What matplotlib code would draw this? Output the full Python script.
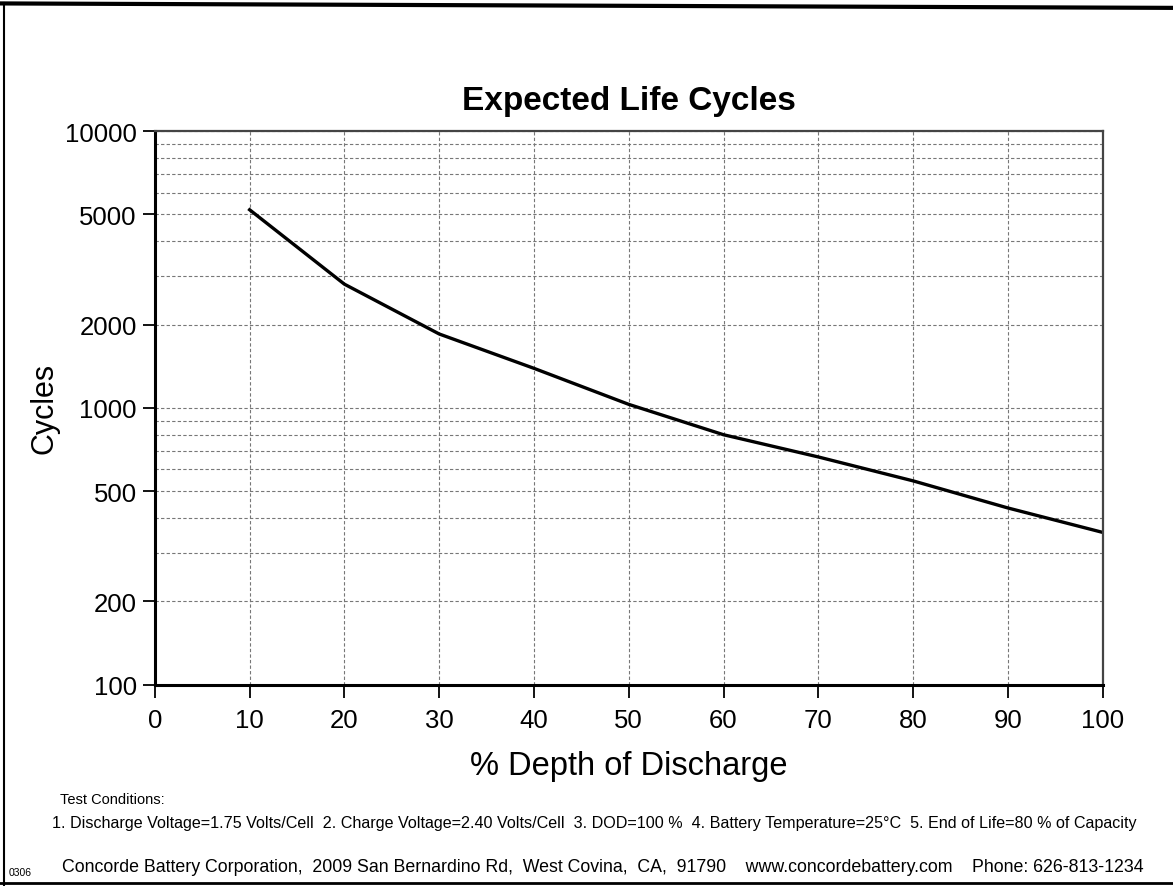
import matplotlib.pyplot as plt
from matplotlib.lines import Line2D
from matplotlib.ticker import FixedLocator, LogLocator, NullFormatter

plt.rcParams['font.family'] = ['Liberation Sans', 'DejaVu Sans']

dod = [10, 20, 30, 40, 50, 60, 70, 80, 90, 100]
cycles = [5200, 2800, 1850, 1390, 1030, 800, 665, 545, 435, 355]

x_ticks = [0, 10, 20, 30, 40, 50, 60, 70, 80, 90, 100]
y_ticks = [100, 200, 500, 1000, 2000, 5000, 10000]

fig = plt.figure(figsize=(11.73, 8.87), dpi=100)
ax = fig.add_axes([0.132, 0.227, 0.808, 0.624])

ax.plot(dod, cycles, color='black', linewidth=2.4)

ax.set_yscale('log')
ax.set_xlim(0, 100)
ax.set_ylim(100, 10000)
ax.xaxis.set_major_locator(FixedLocator(x_ticks))
ax.yaxis.set_major_locator(FixedLocator(y_ticks))
ax.set_yticklabels([str(v) for v in y_ticks])
ax.yaxis.set_minor_locator(LogLocator(base=10, subs=range(1, 10)))
ax.yaxis.set_minor_formatter(NullFormatter())
ax.tick_params(axis='both', which='major', labelsize=18.5, length=9, width=1.3,
               direction='out')
ax.tick_params(axis='x', which='major', pad=8)
ax.tick_params(axis='y', which='major', pad=4)
ax.tick_params(axis='y', which='minor', length=0)

# dashed grid on every log step and every 10 %
ax.grid(True, axis='y', which='both', linestyle=(0, (3, 2)), color='#777777', linewidth=0.8)
ax.grid(True, axis='x', which='major', linestyle=(0, (3, 2)), color='#777777', linewidth=0.8)

for side in ['left', 'bottom']:
    ax.spines[side].set_linewidth(2.2)
    ax.spines[side].set_color('black')
for side in ['top', 'right']:
    ax.spines[side].set_linewidth(1.6)
    ax.spines[side].set_color('#444444')

ax.set_title('Expected Life Cycles', fontsize=24, fontweight='bold', pad=16)
ax.set_xlabel('% Depth of Discharge', fontsize=23.5, labelpad=13)
ax.set_ylabel('Cycles', fontsize=22, labelpad=4)

# footer notes
fig.text(0.051, 0.094, 'Test Conditions:', fontsize=10.5)
fig.text(0.044, 0.066,
         '1. Discharge Voltage=1.75 Volts/Cell  2. Charge Voltage=2.40 Volts/Cell  3. DOD=100 %  '
         '4. Battery Temperature=25°C  5. End of Life=80 % of Capacity',
         fontsize=11.65)
fig.text(0.053, 0.017,
         'Concorde Battery Corporation,  2009 San Bernardino Rd,  West Covina,  CA,  91790    '
         'www.concordebattery.com    Phone: 626-813-1234',
         fontsize=12.8)
fig.text(0.007, 0.012, '0306', fontsize=7.5)

# page frame of the scan
fig.add_artist(Line2D([0.0, 1.0], [0.995, 0.99], transform=fig.transFigure,
                      color='black', linewidth=3))
fig.add_artist(Line2D([0.003, 0.003], [0.0, 0.995], transform=fig.transFigure,
                      color='black', linewidth=1.5))
fig.add_artist(Line2D([0.0, 1.0], [0.003, 0.003], transform=fig.transFigure,
                      color='black', linewidth=2))

fig.savefig('out.png', dpi=100)
